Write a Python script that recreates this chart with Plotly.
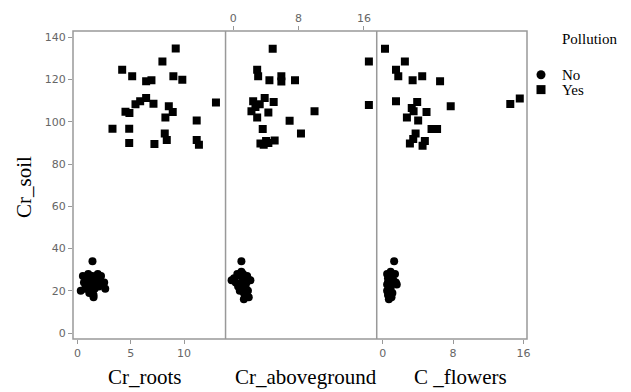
import plotly.graph_objects as go

# ---- data ----
roots_yes_x = [9.22, 7.97, 4.19, 5.13, 6.44, 6.94, 9.0, 9.84, 13.0, 6.44, 5.88, 5.44, 7.13, 4.5, 4.87,
               8.57, 8.94, 8.25, 11.19, 3.28, 4.85, 8.19, 8.38, 4.85, 7.22, 11.19, 11.4]
roots_yes_y = [134.7, 128.6, 124.7, 121.6, 119.2, 119.7, 121.6, 119.9, 109.1, 111.3, 109.7, 108.3, 108.6,
               104.8, 104.2, 107.4, 104.7, 102.0, 100.6, 96.7, 96.7, 94.5, 91.4, 90.0, 89.5, 91.4, 89.1]
roots_no_x = [0.3, 0.6, 0.5, 0.8, 0.9, 1.0, 1.1, 1.2, 1.3, 1.4, 1.4, 1.5, 1.6, 1.7, 1.8, 1.9, 2.0, 2.1,
              2.2, 2.3, 2.5, 2.6, 1.2, 0.7, 1.5]
roots_no_y = [20, 24, 27, 22, 26, 28, 19, 23, 25, 34, 27, 17, 21, 26, 24, 28, 22, 25, 27, 23, 24, 21, 20,
              21, 18]

above_yes_x = [4.83, 16.6, 2.93, 3.05, 4.43, 5.89, 5.89, 7.56, 3.85, 2.44, 4.95, 3.24, 16.6, 2.23, 9.95,
               4.30, 2.93, 6.9, 3.61, 8.29, 3.33, 4.02, 5.07, 3.73, 2.72, 4.3]
above_yes_y = [134.6, 128.6, 124.6, 121.6, 119.7, 121.6, 119.1, 119.7, 111.3, 109.7, 109.4, 108.3, 108.0,
               105.0, 105.0, 104.4, 102.0, 100.5, 96.6, 94.5, 89.8, 90.9, 91.2, 89.1, 107.0, 90.0]
above_no_x = [-0.2, 0.1, 0.3, 0.5, 0.7, 0.9, 1.0, 1.1, 1.2, 1.3, 1.4, 1.5, 1.6, 1.7, 1.8, 1.9, 2.0, 1.0,
              0.6, 1.3, 0.8, 1.5, 2.1, 1.2]
above_no_y = [25, 26, 24, 28, 23, 27, 29, 21, 25, 19, 26, 22, 24, 27, 20, 17, 25, 34, 22, 16, 20, 23, 25, 28]

flowers_yes_x = [0.26, 2.52, 1.51, 1.77, 3.4, 4.49, 6.52, 1.51, 3.92, 3.51, 4.98, 7.73, 15.58, 14.5, 2.75,
                 4.03, 5.55, 6.18, 3.74, 3.09, 3.47, 4.53, 4.79, 3.3]
flowers_yes_y = [134.6, 128.6, 124.6, 121.6, 119.7, 121.6, 119.2, 109.7, 109.4, 105.0, 104.7, 107.4, 111.1,
                 108.5, 102.0, 100.6, 96.6, 96.6, 94.5, 89.8, 91.9, 88.7, 90.9, 106.5]
flowers_no_x = [0.5, 0.7, 0.6, 0.8, 0.5, 0.6, 0.7, 1.0, 1.2, 1.6, 1.4, 0.9, 0.5, 1.1, 1.3, 0.8, 1.0, 1.5,
                0.6, 0.9]
flowers_no_y = [28, 26, 24, 22, 20, 18, 16, 27, 25, 23, 28, 21, 23, 19, 34, 25, 17, 24, 26, 29]

y_ticks = [0, 20, 40, 60, 80, 100, 120, 140]
roots_ticks = [0, 5, 10]
above_ticks = [0, 8, 16]
flowers_ticks = [0, 8, 16]
panel_titles = ["Cr_roots", "Cr_aboveground", "C _flowers"]
legend_title = "Pollution"
groups = ["No", "Yes"]

# ---- figure ----
fig = go.Figure()
panels = [
    ("x", roots_no_x, roots_no_y, roots_yes_x, roots_yes_y),
    ("x2", above_no_x, above_no_y, above_yes_x, above_yes_y),
    ("x3", flowers_no_x, flowers_no_y, flowers_yes_x, flowers_yes_y),
]
for xa, nx, ny, yx, yy in panels:
    fig.add_trace(go.Scatter(x=yx, y=yy, xaxis=xa, yaxis="y", mode="markers",
                             marker=dict(symbol="square", size=8, color="black"),
                             showlegend=False, hoverinfo="skip"))
    fig.add_trace(go.Scatter(x=nx, y=ny, xaxis=xa, yaxis="y", mode="markers",
                             marker=dict(symbol="circle", size=8, color="black"),
                             showlegend=False, hoverinfo="skip"))

tickfont = dict(family="DejaVu Sans", size=11, color="#666666")
axcommon = dict(showgrid=False, zeroline=False, showline=False, ticks="outside",
                ticklen=4, tickcolor="#999999", tickwidth=1, tickfont=tickfont)

d1, d2 = 0.336, 0.669
fig.update_layout(
    width=631, height=392,
    margin=dict(l=73, r=104, t=29, b=53),
    paper_bgcolor="white", plot_bgcolor="white",
    showlegend=False,
    xaxis=dict(domain=[0, d1], range=[-0.43, 13.9], tickvals=roots_ticks, anchor="y", **axcommon),
    xaxis2=dict(domain=[d1, d2], range=[-0.94, 17.56], tickvals=above_ticks, anchor="y", side="top",
                **axcommon),
    xaxis3=dict(domain=[d2, 1], range=[-0.68, 16.4], tickvals=flowers_ticks, anchor="y", **axcommon),
    yaxis=dict(domain=[0, 1], range=[-2.8, 143], tickvals=y_ticks, **axcommon),
)

frame = dict(color="#999999", width=1.5)
shapes = [
    dict(type="rect", xref="paper", yref="paper", x0=0, x1=1, y0=0, y1=1, line=frame),
    dict(type="line", xref="paper", yref="paper", x0=d1, x1=d1, y0=0, y1=1, line=frame),
    dict(type="line", xref="paper", yref="paper", x0=d2, x1=d2, y0=0, y1=1, line=frame),
]

# legend markers (drawn manually)
pw = 631 - 73 - 104
ph = 392 - 29 - 53
def px_x(p):
    return (p - 73) / pw
def px_y(p):
    return (392 - 53 - p) / ph

shapes.append(dict(type="circle", xref="paper", yref="paper", xsizemode="pixel", ysizemode="pixel",
                   xanchor=px_x(541), yanchor=px_y(73), x0=-4.5, x1=4.5, y0=-4.5, y1=4.5,
                   fillcolor="black", line=dict(width=0)))
shapes.append(dict(type="rect", xref="paper", yref="paper", xsizemode="pixel", ysizemode="pixel",
                   xanchor=px_x(541), yanchor=px_y(88), x0=-4.5, x1=4.5, y0=-4.5, y1=4.5,
                   fillcolor="black", line=dict(width=0)))
fig.update_layout(shapes=shapes)

serif = "Liberation Serif"
ann = []
title_x = [145, 306, 460]
for t, cx in zip(panel_titles, title_x):
    ann.append(dict(text=t, xref="paper", yref="paper", x=px_x(cx), y=px_y(377), showarrow=False,
                    xanchor="center", yanchor="middle", font=dict(family=serif, size=21, color="black")))
ann.append(dict(text="Cr_soil", xref="paper", yref="paper", x=px_x(24), y=px_y(186), showarrow=False,
                textangle=-90, xanchor="center", yanchor="middle",
                font=dict(family=serif, size=21, color="black")))
ann.append(dict(text=legend_title, xref="paper", yref="paper", x=px_x(560), y=px_y(37), showarrow=False,
                xanchor="left", yanchor="middle", font=dict(family=serif, size=15, color="black")))
for g, yy in zip(groups, [73, 88]):
    ann.append(dict(text=g, xref="paper", yref="paper", x=px_x(560), y=px_y(yy), showarrow=False,
                    xanchor="left", yanchor="middle", font=dict(family=serif, size=15, color="black")))
fig.update_layout(annotations=ann)

fig.write_html("out.html")
